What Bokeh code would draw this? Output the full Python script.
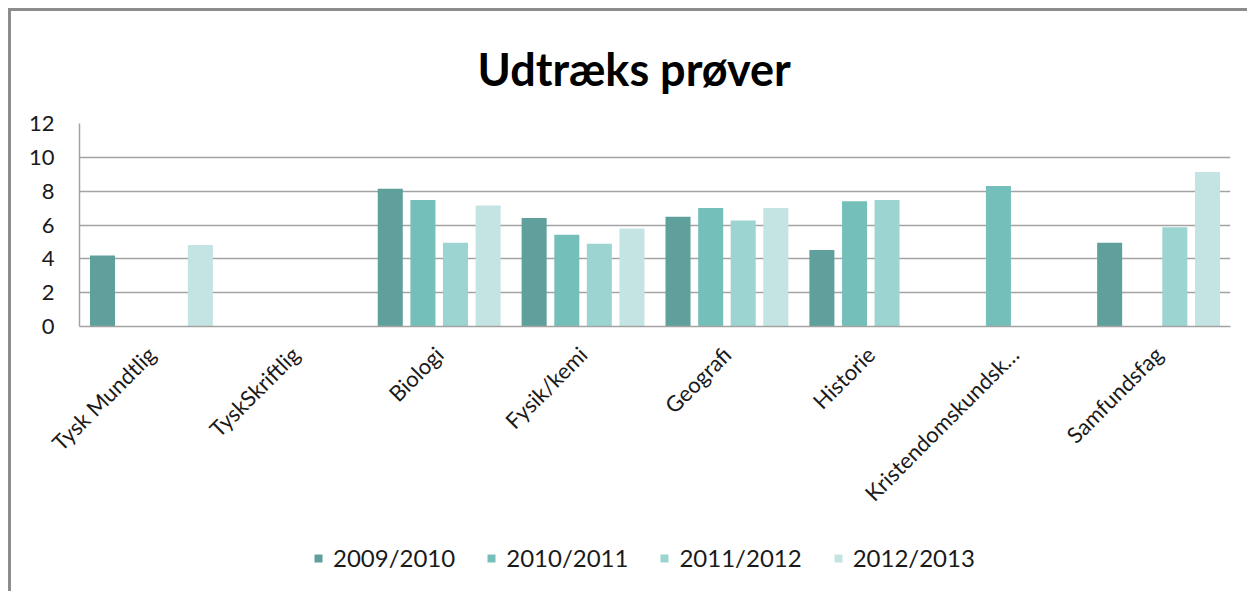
import math
from bokeh.plotting import figure
from bokeh.layouts import column
from bokeh.models import (ColumnDataSource, FactorRange, Range1d, FixedTicker,
                          Legend, LegendItem)
from bokeh.transform import dodge
from bokeh.embed import file_html
from bokeh.resources import INLINE

nan = float("nan")

# ---- data ----
categories = ["Tysk Mundtlig", "TyskSkriftlig", "Biologi", "Fysik/kemi",
              "Geografi", "Historie", "Kristendomskundsk…", "Samfundsfag"]
years = ["2009/2010", "2010/2011", "2011/2012", "2012/2013"]
v2009 = [4.20, nan, 8.15, 6.41, 6.49, 4.52, nan, 4.95]
v2010 = [nan, nan, 7.48, 5.43, 7.01, 7.40, 8.31, nan]
v2011 = [nan, nan, 4.95, 4.89, 6.26, 7.48, nan, 5.86]
v2012 = [4.82, nan, 7.16, 5.80, 7.01, nan, nan, 9.14]
y_ticks = [0, 2, 4, 6, 8, 10, 12]
title_text = "Udtræks prøver"

colors = ["#5fa09c", "#75bfba", "#9bd4d1", "#c3e4e3"]
offsets = [-0.34, -0.113, 0.113, 0.34]
cols = ["v2009", "v2010", "v2011", "v2012"]
FONT = "Lato"
TXT = "#1a1a1a"
GRID = "#a3a3a3"

src = ColumnDataSource(dict(cat=categories, v2009=v2009, v2010=v2010,
                            v2011=v2011, v2012=v2012))

W = 1236
xr = FactorRange(*categories, range_padding=0)
p = figure(width=W, height=520, x_range=xr,
           y_range=Range1d(0, 12), output_backend="svg", toolbar_location=None,
           min_border_left=68, min_border_right=17, min_border_top=112,
           min_border_bottom=205, title=title_text)
p.outline_line_color = None
p.background_fill_color = "white"
p.border_fill_color = "white"

p.title.align = "left"
p.title.offset = 398
p.title.standoff = 56
p.title.text_font = FONT
p.title.text_font_style = "bold"
p.title.text_font_size = "45px"
p.title.text_color = "#000000"

for col, c, off in zip(cols, colors, offsets):
    p.vbar(x=dodge("cat", off, range=xr), top=col, width=0.174,
           source=src, fill_color=c, line_color=None)

p.xgrid.grid_line_color = None
p.ygrid.grid_line_color = GRID
p.ygrid.grid_line_width = 1.5
p.yaxis.ticker = FixedTicker(ticks=y_ticks)
for ax in (p.xaxis[0], p.yaxis[0]):
    ax.axis_line_color = GRID
    ax.axis_line_width = 1.5
    ax.major_tick_line_color = None
    ax.minor_tick_line_color = None
    ax.major_label_text_font = FONT
    ax.major_label_text_font_size = "22px"
    ax.major_label_text_color = TXT
p.yaxis.major_label_standoff = 19
p.xaxis.major_label_orientation = math.pi / 4
p.xaxis.major_label_standoff = 18

# legend row: a separate strip (so the legend is not clipped by the plot frame);
# its bars use the same data but lie outside its visible y-range
lf = figure(width=W, height=60, x_range=xr, y_range=Range1d(100, 101),
            output_backend="svg", toolbar_location=None,
            x_axis_location=None, y_axis_location=None,
            min_border_left=0, min_border_right=0, min_border_top=0, min_border_bottom=0)
lf.outline_line_color = None
lf.xgrid.grid_line_color = None
lf.ygrid.grid_line_color = None
items = []
for y, col, c, off in zip(years, cols, colors, offsets):
    r = lf.vbar(x=dodge("cat", off, range=xr), top=col, width=0.174,
                source=src, fill_color=c, line_color=None)
    items.append(LegendItem(label=y, renderers=[r]))
legend = Legend(items=items, orientation="horizontal", location=(234, 19), margin=0,
                glyph_width=10, glyph_height=10, label_standoff=10, spacing=31,
                padding=0, border_line_color=None, background_fill_alpha=0,
                label_text_font=FONT, label_text_font_size="24px",
                label_text_color=TXT)
lf.add_layout(legend, "center")

layout = column(p, lf, spacing=0)
layout.styles = {"border-left": "3px solid #8c8c8c", "border-top": "3px solid #8c8c8c",
                 "margin-left": "8px", "margin-top": "8px"}

open("out.html", "w").write(file_html(layout, INLINE))
